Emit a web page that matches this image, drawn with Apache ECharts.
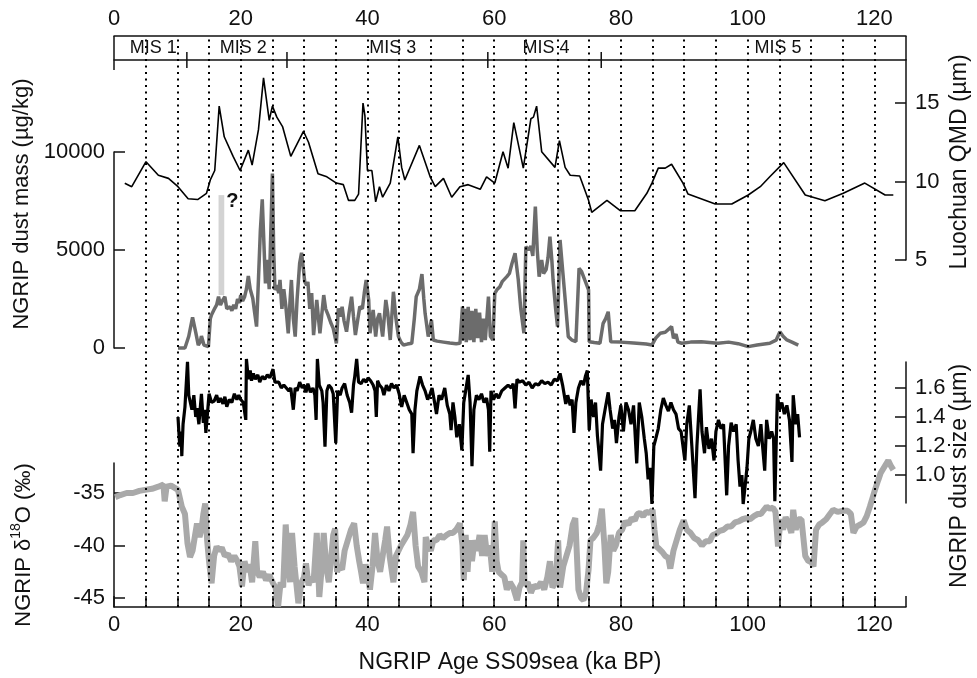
<!DOCTYPE html>
<html><head><meta charset="utf-8">
<script src="https://cdn.jsdelivr.net/npm/echarts@6/dist/echarts.min.js"></script>
<style>html,body{margin:0;padding:0;background:#fff}#c{width:977px;height:678px}</style>
</head><body><div id="c"></div>
<script>
// ---------- data ----------
const xTickValues = [0,5,10,15,20,25,30,35,40,45,50,55,60,65,70,75,80,85,90,95,100,105,110,115,120,125];
const xLabelValues = [0,20,40,60,80,100,120];
const dottedAges = [5,10,15,20,25,30,35,40,45,50,55,60,65,70,75,80,85,90,95,100,105,110,115,120];
const misNames = ['MIS 1','MIS 2','MIS 3','MIS 4','MIS 5'];
const misCentres = [6.2,20.4,44.0,68.2,104.8];
const misBoundaries = [11.5,27.3,59.0,76.9];
const qmdTicks = [5,10,15];
const massTicks = [0,5000,10000];
const sizeTicks = [1.0,1.2,1.4,1.6];
const d18Ticks = [-45,-40,-35];
const questionBand = [[16.5,2700],[17.4,7800]];

const qmd = [[1.7,9.89],[2.8,9.67],[5.05,11.26],[7.0,10.4],[8.6,10.2],[10.1,9.67],[11.7,8.9],[12.0,8.78],[13.2,8.85],[14.6,9.25],[15.2,10.1],[15.9,10.7],[16.6,14.8],[17.4,12.85],[18.8,11.6],[19.9,10.7],[21.2,12.0],[21.8,11.05],[22.8,13.3],[23.6,16.6],[24.5,13.9],[25.0,14.8],[25.7,14.1],[26.6,13.5],[27.9,11.6],[29.9,13.2],[30.7,12.5],[32.2,10.5],[33.6,10.3],[35.1,9.9],[36.2,9.8],[37.0,8.8],[38.0,8.8],[38.6,9.2],[39.3,15.0],[39.6,14.2],[40.0,10.7],[40.7,10.7],[41.3,8.7],[41.9,9.67],[42.4,9.0],[43.6,9.9],[44.8,12.85],[45.4,10.9],[45.9,10.1],[48.2,12.3],[49.9,10.3],[50.7,9.67],[52.0,10.2],[53.3,9.0],[54.6,9.67],[55.9,9.8],[57.8,9.5],[58.8,10.3],[60.1,9.9],[61.4,11.9],[62.2,10.85],[63.1,13.75],[64.6,10.85],[65.8,14.0],[66.2,14.1],[66.7,14.8],[67.5,11.9],[69.6,10.9],[70.3,12.6],[71.2,10.9],[72.0,10.4],[73.5,10.35],[74.9,8.8],[75.4,8.04],[77.8,8.8],[79.9,8.14],[82.2,8.14],[84.1,9.25],[84.9,9.9],[85.9,10.85],[87.0,10.85],[88.0,11.1],[89.8,9.9],[90.6,9.2],[94.9,8.57],[97.5,8.57],[100.1,9.14],[102.0,9.67],[103.5,10.3],[105.7,11.2],[109.1,9.14],[112.2,8.78],[115.1,9.25],[118.5,9.9],[121.7,9.14],[123.0,9.14]];

const dustMass = [[10.1,0],[11.2,0],[11.8,600],[12.4,1565],[12.9,800],[13.3,150],[13.6,300],[13.8,610],[14.2,150],[14.9,70],[15.2,1500],[15.4,1700],[15.7,1800],[15.9,2025],[16.2,2200],[16.5,2620],[16.8,2190],[17.1,2400],[17.5,2620],[17.8,2000],[18.0,1940],[18.3,2100],[18.6,1900],[18.9,2200],[19.2,2000],[19.5,2500],[19.8,2300],[20.0,2700],[20.3,2400],[20.6,2600],[20.9,3000],[21.2,3670],[21.5,3000],[21.9,2535],[22.2,1800],[22.5,1090],[22.8,3500],[23.1,6000],[23.4,7590],[23.7,5000],[23.9,3300],[24.2,4500],[24.5,3000],[24.8,6500],[25.0,8900],[25.2,5000],[25.4,2960],[25.7,3200],[26.0,2800],[26.2,3470],[26.5,2000],[26.8,3000],[27.1,2200],[27.5,750],[27.8,2500],[28.0,3470],[28.3,1500],[28.6,580],[28.9,2500],[29.3,4320],[29.6,4860],[29.9,4000],[30.1,3380],[30.4,3200],[30.6,3380],[30.9,2000],[31.2,2800],[31.5,660],[32.0,2450],[32.5,750],[33.1,2700],[33.4,2000],[33.8,1680],[34.2,1300],[34.6,1000],[35.1,240],[35.4,2025],[35.7,1600],[36.0,2100],[36.3,1400],[36.7,830],[37.1,1800],[37.5,2620],[37.8,1600],[38.1,660],[38.5,1500],[38.8,2110],[39.2,2000],[39.5,2800],[39.8,3470],[40.2,2450],[40.4,750],[40.9,1940],[41.3,580],[41.6,1500],[41.9,1770],[42.4,580],[42.9,2450],[43.2,1800],[43.6,410],[44.1,2870],[44.5,1500],[44.9,580],[45.3,300],[45.7,150],[46.3,200],[47.0,240],[47.4,1500],[47.7,2620],[48.2,3000],[48.6,3770],[48.9,2500],[49.1,1770],[49.6,580],[50.1,1430],[50.4,410],[51.0,350],[52.0,300],[53.0,250],[54.0,220],[54.6,240],[55.0,2110],[55.2,400],[55.4,2000],[55.6,300],[55.9,2100],[56.2,400],[56.5,1900],[56.8,300],[57.1,2000],[57.4,500],[57.7,1800],[58.0,300],[58.3,1500],[58.6,400],[59.1,2620],[59.4,600],[59.8,410],[60.1,2790],[60.5,3000],[60.9,3130],[61.3,3400],[61.6,3300],[62.0,3640],[62.4,3800],[62.8,4300],[63.3,4830],[63.8,3500],[64.2,2000],[64.7,750],[65.0,5170],[65.4,5000],[65.8,5200],[66.1,4700],[66.5,7210],[66.8,5000],[67.1,3640],[67.5,4490],[67.8,3800],[68.2,4000],[68.5,4600],[68.8,5680],[69.1,4500],[69.3,3470],[69.7,2000],[70.0,1090],[70.4,5510],[70.8,4000],[71.2,2500],[71.7,580],[72.3,400],[72.9,320],[73.4,4070],[73.8,3900],[74.3,3470],[74.9,2960],[75.0,320],[75.8,280],[76.7,240],[77.2,1260],[77.6,1500],[78.0,1850],[78.4,320],[80.0,300],[82.0,250],[84.0,200],[84.9,150],[85.5,500],[86.2,750],[87.0,800],[88.0,1090],[88.3,500],[88.7,700],[89.0,300],[89.6,240],[91.0,300],[92.7,320],[94.0,280],[95.3,240],[97.0,300],[98.5,220],[100.1,70],[101.5,150],[103.5,240],[104.5,400],[105.1,830],[105.6,600],[106.2,410],[107.0,300],[108.0,150]];

const dustSize = [[10.1,1.40],[10.3,1.25],[10.4,1.195],[10.6,1.30],[10.7,1.13],[10.9,1.35],[11.2,1.47],[11.6,1.78],[11.8,1.55],[12.0,1.56],[12.3,1.45],[12.6,1.55],[12.9,1.40],[13.1,1.46],[13.4,1.35],[13.8,1.56],[14.1,1.36],[14.3,1.45],[14.5,1.29],[14.8,1.45],[15.0,1.56],[15.4,1.50],[15.8,1.51],[16.2,1.55],[16.5,1.50],[16.8,1.53],[17.2,1.49],[17.5,1.54],[17.8,1.47],[18.2,1.52],[18.6,1.50],[19.0,1.56],[19.4,1.52],[19.7,1.55],[20.0,1.52],[20.4,1.50],[20.6,1.50],[20.8,1.38],[20.9,1.80],[21.2,1.66],[21.5,1.72],[21.7,1.65],[22.0,1.70],[22.3,1.66],[22.7,1.69],[23.0,1.64],[23.4,1.68],[23.8,1.66],[24.2,1.69],[24.6,1.67],[25.1,1.73],[25.4,1.64],[25.6,1.63],[26.0,1.64],[26.4,1.60],[26.8,1.62],[27.2,1.60],[27.6,1.58],[27.9,1.60],[28.3,1.45],[28.6,1.60],[28.9,1.58],[29.3,1.64],[29.7,1.60],[30.0,1.62],[30.3,1.57],[30.6,1.63],[31.0,1.57],[31.4,1.60],[31.7,1.55],[31.9,1.38],[32.1,1.80],[32.4,1.62],[32.8,1.58],[33.0,1.50],[33.3,1.195],[33.6,1.58],[33.9,1.62],[34.3,1.60],[34.6,1.56],[35.0,1.22],[35.3,1.58],[35.7,1.55],[36.0,1.60],[36.4,1.63],[36.8,1.55],[37.2,1.50],[37.5,1.43],[37.8,1.62],[38.0,1.68],[38.3,1.80],[38.6,1.64],[39.0,1.63],[39.4,1.66],[39.8,1.64],[40.1,1.67],[40.5,1.65],[40.9,1.62],[41.2,1.58],[41.4,1.40],[41.6,1.65],[41.9,1.62],[42.3,1.60],[42.6,1.55],[43.0,1.62],[43.4,1.58],[43.8,1.63],[44.2,1.60],[44.6,1.62],[45.0,1.56],[45.4,1.47],[45.8,1.55],[46.2,1.50],[46.6,1.45],[47.0,1.42],[47.2,1.15],[47.5,1.45],[47.8,1.58],[48.3,1.68],[48.7,1.62],[49.1,1.58],[49.5,1.52],[49.9,1.56],[50.2,1.60],[50.6,1.50],[50.9,1.42],[51.3,1.55],[51.7,1.52],[52.2,1.60],[52.6,1.48],[53.0,1.42],[53.2,1.31],[53.5,1.50],[53.8,1.40],[54.1,1.26],[54.5,1.35],[54.9,1.17],[55.2,1.50],[55.5,1.58],[55.9,1.69],[56.2,1.50],[56.5,1.06],[56.8,1.45],[57.2,1.55],[57.6,1.52],[58.0,1.56],[58.4,1.50],[58.8,1.53],[59.1,1.45],[59.3,1.16],[59.5,1.58],[59.9,1.52],[60.3,1.56],[60.7,1.53],[61.2,1.58],[61.7,1.60],[62.2,1.62],[62.7,1.60],[63.0,1.63],[63.3,1.46],[63.6,1.66],[64.0,1.64],[64.5,1.65],[65.0,1.62],[65.5,1.64],[66.0,1.60],[66.5,1.63],[67.0,1.62],[67.5,1.65],[68.0,1.63],[68.5,1.64],[69.0,1.62],[69.5,1.66],[70.0,1.65],[70.4,1.70],[70.8,1.62],[71.3,1.49],[71.6,1.55],[72.0,1.48],[72.3,1.52],[72.6,1.29],[72.9,1.50],[73.3,1.60],[73.7,1.65],[74.1,1.62],[74.4,1.68],[74.7,1.72],[75.0,1.31],[75.3,1.52],[75.7,1.40],[76.0,1.50],[76.3,1.27],[76.8,1.03],[77.1,1.35],[77.5,1.45],[78.0,1.57],[78.3,1.45],[78.7,1.32],[79.0,1.38],[79.3,1.22],[79.7,1.40],[80.0,1.48],[80.4,1.30],[80.8,1.50],[81.2,1.45],[81.6,1.35],[82.0,1.48],[82.5,1.08],[82.9,1.50],[83.3,1.40],[83.7,1.25],[84.0,1.15],[84.3,0.97],[84.6,1.05],[84.9,0.80],[85.2,1.20],[85.5,1.25],[85.9,1.32],[86.3,1.45],[86.7,1.53],[87.1,1.48],[87.5,1.44],[87.9,1.50],[88.3,1.45],[88.7,1.42],[89.1,1.32],[89.5,1.30],[90.1,1.10],[90.4,1.35],[90.8,1.48],[91.2,1.20],[91.7,0.84],[92.0,1.20],[92.5,1.59],[92.8,1.30],[93.2,1.15],[93.5,1.33],[93.9,1.18],[94.3,1.25],[94.7,1.10],[95.0,1.30],[95.4,1.38],[95.8,1.32],[96.2,1.35],[96.7,0.86],[97.0,1.20],[97.4,1.36],[97.8,1.30],[98.2,1.35],[98.5,1.10],[98.8,0.92],[99.1,1.00],[99.3,0.80],[99.6,0.92],[99.9,1.05],[100.2,1.25],[100.5,1.30],[100.9,1.38],[101.3,1.25],[101.7,1.20],[102.1,1.35],[102.4,1.18],[102.7,1.03],[103.0,1.38],[103.4,1.25],[103.8,1.30],[104.1,1.25],[104.3,0.82],[104.7,1.56],[105.0,1.45],[105.4,1.50],[105.8,1.42],[106.2,1.48],[106.6,1.38],[107.0,1.09],[107.2,1.55],[107.6,1.35],[107.9,1.42],[108.2,1.26]];

const d18O = [[0.2,-35.4],[1.0,-35.2],[2.0,-35.0],[3.0,-35.0],[4.0,-34.8],[4.9,-34.7],[6.0,-34.6],[7.0,-34.4],[7.8,-34.2],[8.0,-35.8],[8.3,-34.4],[9.0,-34.3],[10.1,-34.7],[10.7,-36.3],[11.2,-37.0],[11.6,-39.8],[12.0,-41.1],[12.4,-40.5],[12.8,-39.0],[13.1,-37.9],[13.5,-39.2],[13.8,-38.5],[14.1,-37.0],[14.4,-36.0],[14.7,-39.5],[15.0,-41.5],[15.4,-43.6],[15.8,-41.0],[16.2,-40.1],[16.6,-40.5],[17.0,-40.2],[17.5,-41.0],[18.0,-40.8],[18.5,-41.5],[19.0,-41.0],[19.4,-41.4],[19.8,-42.0],[20.2,-43.9],[20.6,-41.5],[21.0,-42.5],[21.4,-41.8],[21.8,-43.5],[22.3,-39.6],[22.6,-42.5],[23.0,-43.0],[23.5,-42.5],[24.0,-43.3],[24.5,-42.8],[25.1,-43.6],[25.5,-44.0],[25.9,-45.8],[26.3,-43.5],[26.7,-44.0],[27.1,-38.0],[27.5,-42.0],[27.8,-43.5],[28.1,-38.8],[28.5,-42.0],[29.1,-45.5],[29.6,-43.5],[30.0,-43.0],[30.3,-41.7],[30.7,-43.8],[31.1,-43.0],[31.5,-43.5],[32.0,-38.8],[32.4,-44.9],[32.8,-42.0],[33.1,-38.8],[33.5,-42.0],[33.9,-43.5],[34.3,-41.0],[34.6,-39.0],[34.9,-38.4],[35.2,-42.5],[35.6,-42.0],[36.0,-42.3],[36.4,-40.5],[36.9,-39.5],[37.4,-38.5],[37.9,-37.9],[38.3,-40.0],[38.7,-41.5],[39.0,-42.5],[39.3,-43.6],[39.7,-41.8],[40.0,-42.8],[40.4,-44.2],[40.8,-42.0],[41.2,-38.8],[41.6,-41.5],[42.0,-42.5],[42.4,-41.0],[42.8,-39.5],[43.1,-38.2],[43.5,-41.0],[44.1,-43.5],[44.5,-41.0],[44.9,-40.5],[45.3,-40.0],[45.8,-39.5],[46.3,-39.0],[46.8,-38.0],[47.2,-36.8],[47.6,-40.0],[48.0,-42.0],[48.5,-42.5],[49.0,-43.5],[49.2,-39.2],[49.6,-40.0],[50.0,-40.5],[50.4,-39.5],[50.9,-39.5],[51.4,-39.0],[51.9,-39.3],[52.5,-39.0],[53.0,-38.8],[53.5,-38.8],[54.0,-38.5],[54.6,-37.9],[55.0,-40.0],[55.2,-43.3],[55.5,-39.0],[55.8,-42.5],[56.1,-39.5],[56.5,-41.5],[56.9,-39.5],[57.3,-40.5],[57.7,-39.0],[58.1,-41.0],[58.5,-39.0],[58.9,-41.0],[59.3,-40.0],[59.7,-42.5],[60.1,-37.7],[60.4,-41.5],[60.7,-42.5],[61.2,-42.8],[61.6,-43.0],[62.0,-44.2],[62.5,-43.5],[63.0,-44.0],[63.6,-45.2],[64.0,-44.0],[64.4,-43.5],[64.6,-39.5],[64.8,-43.8],[65.3,-43.5],[65.8,-44.5],[66.3,-43.8],[66.8,-44.0],[67.4,-43.5],[67.9,-44.2],[68.4,-43.0],[68.8,-41.5],[69.2,-44.0],[69.7,-43.5],[70.1,-39.5],[70.4,-44.0],[70.9,-42.0],[71.4,-41.0],[71.9,-40.0],[72.4,-38.0],[72.8,-37.4],[73.3,-44.2],[73.7,-45.0],[74.1,-45.2],[74.5,-44.5],[74.9,-42.3],[75.2,-39.5],[75.6,-39.3],[76.2,-38.8],[76.6,-38.0],[77.0,-36.5],[77.4,-40.0],[77.7,-43.6],[78.0,-42.5],[78.4,-39.0],[78.8,-40.5],[79.2,-40.0],[79.7,-38.8],[80.2,-38.5],[80.7,-37.7],[81.2,-38.0],[81.7,-37.4],[82.2,-37.6],[82.6,-37.0],[83.0,-36.9],[83.5,-37.2],[84.0,-36.8],[84.5,-36.9],[85.0,-36.6],[85.3,-38.5],[85.6,-40.1],[86.0,-40.3],[86.5,-40.6],[87.0,-41.0],[87.5,-41.2],[87.8,-42.2],[88.3,-40.5],[88.8,-39.5],[89.3,-38.5],[89.9,-37.6],[90.4,-38.5],[91.0,-38.8],[91.6,-39.3],[92.2,-39.5],[92.8,-40.0],[93.4,-39.6],[94.0,-39.6],[94.5,-39.0],[95.0,-38.9],[95.6,-38.6],[96.2,-38.5],[96.8,-38.2],[97.4,-38.2],[98.0,-37.8],[98.6,-37.7],[99.2,-37.5],[99.8,-37.4],[100.4,-37.5],[101.0,-37.2],[101.6,-37.0],[102.1,-37.0],[102.6,-36.6],[103.0,-36.3],[103.5,-36.5],[104.0,-36.4],[104.4,-36.8],[104.8,-40.1],[105.2,-37.5],[105.6,-38.5],[106.0,-37.3],[106.5,-38.0],[106.9,-38.8],[107.2,-36.6],[107.6,-38.5],[108.0,-37.5],[108.5,-37.5],[109.1,-41.0],[109.6,-41.5],[110.0,-41.5],[110.4,-42.0],[110.8,-38.5],[111.3,-38.0],[111.8,-37.8],[112.4,-37.5],[113.0,-37.0],[113.5,-36.6],[114.2,-36.8],[115.0,-36.7],[115.8,-36.7],[116.3,-37.0],[116.7,-38.8],[117.2,-38.2],[117.8,-38.0],[118.3,-37.8],[118.8,-37.2],[119.3,-36.3],[119.7,-35.5],[120.1,-34.7],[120.6,-33.8],[121.0,-33.1],[121.6,-32.5],[122.2,-31.9],[122.6,-32.4],[123.0,-32.8]];

// ---------- chart ----------
const FONT = '"Liberation Sans", Arial, Helvetica, sans-serif';
const TICK_FS = 22, TITLE_FS = 22;
const chart = echarts.init(document.getElementById('c'), null, {renderer:'canvas'});
const L = 114, R = 71;
const axisLineStyle = {color:'#111', width:1.5};
const hiddenX = (g, extra) => Object.assign({gridIndex:g, type:'value', min:0, max:125, show:false}, extra || {});
const yAx = (g, pos, min, max, ticks, fmt) => ({
  gridIndex:g, type:'value', position:pos, min:min, max:max,
  axisLine:{show:true, onZero:false, lineStyle:axisLineStyle},
  axisTick:{show:true, inside:true, length:11, lineStyle:axisLineStyle, customValues:ticks},
  axisLabel:{show:true, customValues:ticks, fontFamily:FONT, fontSize:TICK_FS, color:'#111', margin:9, formatter:fmt},
  splitLine:{show:false}
});

chart.setOption({
  animation:false,
  backgroundColor:'#fff',
  grid:[
    {left:L, right:R, top:60, height:200},
    {left:L, right:R, top:152, height:196},
    {left:L, right:R, top:362, height:141},
    {left:L, right:R, top:463, height:144},
    {left:L, right:R, top:36, height:571}
  ],
  xAxis:[
    hiddenX(0, {show:true, position:'top', axisLine:{show:true, onZero:false, lineStyle:axisLineStyle}, axisTick:{show:false}, axisLabel:{show:false}, splitLine:{show:false}}),
    hiddenX(1), hiddenX(2),
    {gridIndex:3, type:'value', min:0, max:125, position:'bottom',
      axisLine:{show:true, onZero:false, lineStyle:axisLineStyle},
      axisTick:{show:true, inside:true, length:11, lineStyle:axisLineStyle, customValues:xTickValues},
      axisLabel:{show:true, customValues:xLabelValues, fontFamily:FONT, fontSize:TICK_FS, color:'#111', margin:7},
      splitLine:{show:false}},
    {gridIndex:4, type:'value', min:0, max:125, position:'top',
      axisLine:{show:true, onZero:false, lineStyle:axisLineStyle},
      axisTick:{show:false},
      axisLabel:{show:true, customValues:xLabelValues, fontFamily:FONT, fontSize:TICK_FS, color:'#111', margin:6},
      splitLine:{show:false}}
  ],
  yAxis:[
    yAx(0, 'right', 5, 17.74, qmdTicks, v => String(v)),
    yAx(1, 'left', 0, 10000, massTicks, v => String(v)),
    yAx(2, 'right', 0.807, 1.779, sizeTicks, v => v.toFixed(1)),
    yAx(3, 'left', -45.857, -32.143, d18Ticks, v => String(v)),
    {gridIndex:4, type:'value', min:0, max:1, show:false}
  ],
  series:[
    {type:'line', xAxisIndex:4, yAxisIndex:4, data:[[0,0.5],[125,0.5]], showSymbol:false, silent:true,
      lineStyle:{width:0, opacity:0}, z:1,
      markLine:{symbol:'none', silent:true, label:{show:false},
        lineStyle:{color:'#000', width:2, type:[2,4.5]},
        data: dottedAges.map(a => ({xAxis:a}))}},
    {type:'line', name:'d18O', xAxisIndex:3, yAxisIndex:3, data:d18O, showSymbol:false, clip:false,
      lineStyle:{color:'#a9a9a9', width:6}, z:3},
    {type:'line', name:'mass', xAxisIndex:1, yAxisIndex:1, data:dustMass, showSymbol:false, clip:false,
      lineStyle:{color:'#6c6c6c', width:3.5}, z:4,
      markArea:{silent:true, itemStyle:{color:'#d3d3d3'},
        data:[[{coord:questionBand[0]},{coord:questionBand[1]}]]}},
    {type:'line', name:'size', xAxisIndex:2, yAxisIndex:2, data:dustSize, showSymbol:false, clip:false,
      lineStyle:{color:'#000', width:3.2}, z:5},
    {type:'line', name:'qmd', xAxisIndex:0, yAxisIndex:0, data:qmd, showSymbol:false, clip:false,
      lineStyle:{color:'#000', width:1.6}, z:6}
  ]
});

// ---------- decorations placed through the axes ----------
const px = a => chart.convertToPixel({xAxisIndex:4}, a);
const x0 = px(0), x1 = px(125);
const lineEl = (xa, ya, xb, yb) => ({type:'line', silent:true, z:10,
  shape:{x1:xa, y1:ya, x2:xb, y2:yb}, style:{stroke:'#111', lineWidth:1.5}});
const g = [];
g.push(lineEl(x0, 36, x0, 70));
g.push(lineEl(x1, 36, x1, 60));
misBoundaries.forEach(b => g.push(lineEl(px(b), 52, px(b), 68)));
misNames.forEach((n, i) => g.push({type:'text', silent:true, z:10, x:px(misCentres[i]), y:48,
  style:{text:n, font:'18px ' + FONT, fill:'#111', textAlign:'center', textVerticalAlign:'middle'}}));
const qx = px(18.7), qy = chart.convertToPixel({yAxisIndex:1}, 7450);
g.push({type:'text', silent:true, z:10, x:qx, y:qy,
  style:{text:'?', font:'bold 20px ' + FONT, fill:'#111', textAlign:'center', textVerticalAlign:'middle'}});
const vt = (txt, x, y, fs, rich) => ({type:'text', silent:true, z:10, x:x, y:y, rotation:Math.PI/2,
  style:{text:txt, font:fs + 'px ' + FONT, fill:'#111', textAlign:'center', textVerticalAlign:'middle', rich:rich}});
g.push(vt('NGRIP dust mass (µg/kg)', 22, 204, TITLE_FS));
g.push(vt('{a|NGRIP δ}{s|18}{a|O (‰)}', 22, 545, TITLE_FS, {
  a:{fontFamily:FONT, fontSize:TITLE_FS, fill:'#111', lineHeight:26, verticalAlign:'bottom'},
  s:{fontFamily:FONT, fontSize:14, fill:'#111', verticalAlign:'top', lineHeight:26}}));
g.push(vt('Luochuan QMD (µm)', 960, 162, 23));
g.push(vt('NGRIP dust size (µm)', 960, 476, 23));
g.push({type:'text', silent:true, z:10, x:(x0 + x1) / 2, y:663,
  style:{text:'NGRIP Age SS09sea (ka BP)', font:'23px ' + FONT, fill:'#111', textAlign:'center', textVerticalAlign:'middle'}});
chart.setOption({graphic:g});
</script>
</body></html>
